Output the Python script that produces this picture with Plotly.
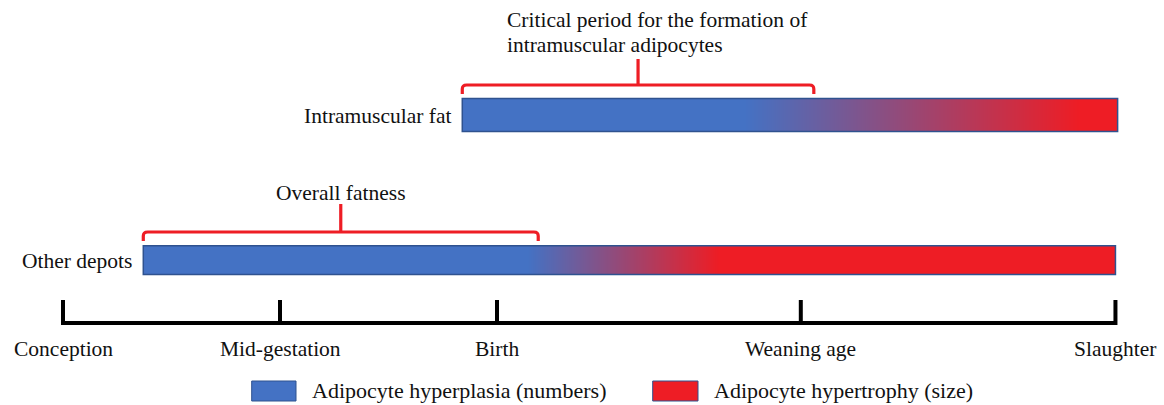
import plotly.graph_objects as go

# ---------------- data (timeline units) ----------------
milestones = ["Conception", "Mid-gestation", "Birth", "Weaning age", "Slaughter"]
milestone_pos = [0.0, 1.0, 2.0, 3.4, 4.85]

rows = ["Intramuscular fat", "Other depots"]
row_start = [1.84, 0.37]          # start of adipose development
row_hyper_start = [3.14, 2.14]    # hypertrophy begins to dominate
row_hyper_full = [4.68, 3.02]     # hypertrophy fully dominant
row_end = [4.86, 4.85]

periods = ["Critical period for the formation of\nintramuscular adipocytes", "Overall fatness"]
period_start = [1.84, 0.37]
period_end = [3.46, 2.19]

legend_labels = ["Adipocyte hyperplasia (numbers)", "Adipocyte hypertrophy (size)"]

# ---------------- styling / layout constants ----------------
W, H = 1164, 405
PX_PER_UNIT = 217.0
ORIGIN_PX = 63.0
BLUE = "#4472C4"
RED = "#EE1D25"
EDGE = "#2F528F"
FONT = "Liberation Serif"
TXT = "#111111"

row_y = [(98.5, 131.5), (245.7, 274.5)]          # top, bottom (layout px)
bracket_y = [(85, 94, 59), (232, 241, 204)]      # top, tip, stem top
axis_y, tick_top = 323, 300
label_y = 349

fig = go.Figure()

# gradient bars
for i, name in enumerate(rows):
    s, gs, ge, e = row_start[i], row_hyper_start[i], row_hyper_full[i], row_end[i]
    top, bot = row_y[i]
    h = bot - top
    # choose cell centres so cell edges coincide with bar ends
    xc = [(2 * s + gs) / 3, gs, ge, (2 * e + ge) / 3]
    yc = [top + h / 4, bot - h / 4]
    fig.add_trace(go.Heatmap(
        x=xc, y=yc, z=[[0, 0, 1, 1], [0, 0, 1, 1]],
        zmin=0, zmax=1, zsmooth="best",
        colorscale=[[0, BLUE], [1, RED]],
        showscale=False, hoverinfo="skip"))
    fig.add_shape(type="rect", xref="x", yref="y", x0=s, x1=e, y0=top, y1=bot,
                  line=dict(color=EDGE, width=1.5), fillcolor="rgba(0,0,0,0)")
    fig.add_annotation(x=s, y=(top + bot) / 2 + 1, xref="x", yref="y", text=name,
                       showarrow=False, xanchor="right", xshift=-9, yanchor="middle",
                       font=dict(family=FONT, size=21.5, color=TXT))

# brackets
r = 0.02
for i, p in enumerate(periods):
    a, b = period_start[i], period_end[i]
    top, tip, stem = bracket_y[i]
    mid = (a + b) / 2
    path = (f"M {a},{tip} L {a},{top+4} Q {a},{top} {a+r},{top} "
            f"L {b-r},{top} Q {b},{top} {b},{top+4} L {b},{tip} "
            f"M {mid},{top} L {mid},{stem}")
    fig.add_shape(type="path", xref="x", yref="y", path=path,
                  line=dict(color=RED, width=3.2))

# bracket captions
lines = periods[0].split("\n")
cap_x = 2.037
fig.add_annotation(x=cap_x, y=20, xref="x", yref="y", text=lines[0], showarrow=False,
                   xanchor="left", yanchor="middle", font=dict(family=FONT, size=21.5, color=TXT))
fig.add_annotation(x=cap_x, y=45, xref="x", yref="y", text=lines[1], showarrow=False,
                   xanchor="left", yanchor="middle", font=dict(family=FONT, size=21.5, color=TXT))
fig.add_annotation(x=(period_start[1] + period_end[1]) / 2, y=193, xref="x", yref="y",
                   text=periods[1], showarrow=False, xanchor="center", yanchor="middle",
                   font=dict(family=FONT, size=21.5, color=TXT))

# timeline axis
tx, ty = [], []
tx += [milestone_pos[0], milestone_pos[0], milestone_pos[-1], milestone_pos[-1], None]
ty += [tick_top, axis_y, axis_y, tick_top, None]
for p in milestone_pos[1:-1]:
    tx += [p, p, None]
    ty += [tick_top, axis_y, None]
fig.add_trace(go.Scatter(x=tx, y=ty, mode="lines", line=dict(color="black", width=4),
                         hoverinfo="skip", showlegend=False))
for name, p in zip(milestones, milestone_pos):
    fig.add_annotation(x=p, y=label_y, xref="x", yref="y", text=name, showarrow=False,
                       xanchor="center", yanchor="middle",
                       font=dict(family=FONT, size=21.5, color=TXT))

# legend (custom)
leg_x = [(251.7, 296.0), (652.7, 698.0)]
for (x0, x1), lab, col in zip(leg_x, legend_labels, [BLUE, RED]):
    fig.add_shape(type="rect", xref="paper", yref="y", x0=x0 / W, x1=x1 / W, y0=381, y1=401,
                  line=dict(color=EDGE, width=1), fillcolor=col)
    fig.add_annotation(x=(x1 + 14) / W, y=390, xref="paper", yref="y", text=lab,
                       showarrow=False, xanchor="left", yanchor="middle",
                       font=dict(family=FONT, size=22, color=TXT))

fig.update_layout(
    width=W, height=H, autosize=False,
    margin=dict(l=0, r=0, t=0, b=0),
    paper_bgcolor="white", plot_bgcolor="white",
    showlegend=False,
    xaxis=dict(range=[-ORIGIN_PX / PX_PER_UNIT, (W - ORIGIN_PX) / PX_PER_UNIT],
               visible=False, fixedrange=True),
    yaxis=dict(range=[H, 0], visible=False, fixedrange=True),
)

fig.write_html(
    "out.html",
    config={"displayModeBar": False},
    post_script="document.body.style.margin='0';document.body.style.overflow='hidden';",
)
